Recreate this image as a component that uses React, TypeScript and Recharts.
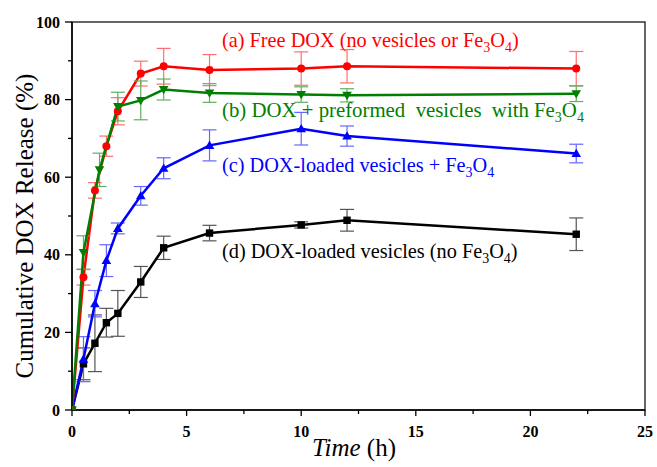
import { LineChart, Line, XAxis, YAxis, ErrorBar, ReferenceArea } from 'recharts'

// sampling times (h)
const times = [0, 0.5, 1, 1.5, 2, 3, 4, 6, 10, 12, 22]
const greenTimes = [0, 0.5, 1.2, 2, 3, 4, 6, 10, 12, 22]

// (a) free DOX
const freeDox = [0, 34.2, 56.6, 68.0, 77.0, 86.7, 88.6, 87.6, 88.0, 88.6, 88.0]
const freeDoxErr = [0, 2.0, 2.0, 2.6, 3.5, 3.2, 4.6, 4.0, 4.3, 4.3, 4.4]
// (b) DOX + preformed vesicles with Fe3O4
const preformed = [0, 40.6, 61.9, 78.2, 79.8, 82.6, 81.7, 81.3, 81.1, 81.5]
const preformedErr = [0, 4.3, 4.3, 3.7, 5.0, 2.7, 2.4, 2.0, 1.7, 2.0]
// (c) DOX-loaded vesicles + Fe3O4
const loadedFe = [0, 13.1, 27.4, 38.5, 46.8, 55.2, 62.3, 68.2, 72.5, 70.6, 66.1]
const loadedFeErr = [0, 5.8, 3.4, 4.1, 1.4, 2.4, 2.7, 4.0, 4.2, 2.6, 2.4]
// (d) DOX-loaded vesicles, no Fe3O4
const loaded = [0, 11.9, 17.2, 22.5, 24.9, 33.0, 41.8, 45.6, 47.7, 48.9, 45.3]
const loadedErr = [0, 4.1, 7.3, 3.7, 5.9, 4.0, 3.0, 2.0, 0.8, 2.8, 4.2]

const xTicks = [0, 2.5, 5, 7.5, 10, 12.5, 15, 17.5, 20, 22.5, 25]
const yTicks = [0, 10, 20, 30, 40, 50, 60, 70, 80, 90, 100]

const rows = (ts: number[], vs: number[], es: number[]) =>
  ts.map((t, i) => ({ t, v: vs[i], e: es[i] }))

const serif = { fontFamily: 'Liberation Serif, Times New Roman, serif' }

function XTick({ x, y, payload }: any) {
  const major = payload.value % 5 === 0
  return (
    <g>
      <line x1={x} x2={x} y1={y} y2={y + (major ? 6 : 4)} stroke="#000" strokeWidth={1.3} />
      {major && (
        <text x={x} y={y + 27} textAnchor="middle" style={serif} fontWeight="bold" fontSize={16} fill="#000">
          {payload.value}
        </text>
      )}
    </g>
  )
}

function YTick({ x, y, payload }: any) {
  const major = payload.value % 20 === 0
  return (
    <g>
      <line x1={x} x2={x - (major ? 7 : 4)} y1={y} y2={y} stroke="#000" strokeWidth={1.3} />
      {major && (
        <text x={x - 12} y={y + 5.5} textAnchor="end" style={serif} fontWeight="bold" fontSize={16} fill="#000">
          {payload.value}
        </text>
      )}
    </g>
  )
}

const circleDot = (p: any) => <circle key={p.index} cx={p.cx} cy={p.cy} r={4} fill="#ff0000" />
const squareDot = (p: any) => <rect key={p.index} x={p.cx - 3.7} y={p.cy - 3.7} width={7.4} height={7.4} fill="#000" />
const downDot = (p: any) => (
  <polygon
    key={p.index}
    points={`${p.cx - 4.8},${p.cy - 3.5} ${p.cx + 4.8},${p.cy - 3.5} ${p.cx},${p.cy + 4.8}`}
    fill="#008000"
  />
)
const upDot = (p: any) => (
  <polygon
    key={p.index}
    points={`${p.cx - 4.8},${p.cy + 3.5} ${p.cx + 4.8},${p.cy + 3.5} ${p.cx},${p.cy - 4.8}`}
    fill="#0000ff"
  />
)

function FeO(props: { close?: boolean }) {
  return (
    <>
      Fe<tspan dy={5} fontSize={14}>3</tspan>
      <tspan dy={-5}>O</tspan>
      <tspan dy={5} fontSize={14}>4</tspan>
      {props.close && <tspan dy={-5}>)</tspan>}
    </>
  )
}

export default function App() {
  return (
    <div style={{ position: 'absolute', left: 0, top: 0, width: 657, height: 467, background: '#fff' }}>
      <LineChart width={657} height={467} margin={{ top: 22, right: 12, bottom: 0, left: 12 }}>
        <XAxis
          type="number"
          dataKey="t"
          domain={[0, 25]}
          ticks={xTicks}
          interval={0}
          tick={<XTick />}
          tickLine={false}
          tickSize={0}
          tickMargin={0}
          height={57}
          axisLine={{ stroke: '#000', strokeWidth: 1.5 }}
          allowDataOverflow
        />
        <YAxis
          type="number"
          domain={[0, 100]}
          ticks={yTicks}
          interval={0}
          tick={<YTick />}
          tickLine={false}
          tickSize={0}
          tickMargin={0}
          width={60}
          axisLine={{ stroke: '#000', strokeWidth: 1.5 }}
          allowDataOverflow
        />
        <ReferenceArea x1={0} x2={25} y1={0} y2={100} fill="none" stroke="#333" strokeWidth={1.5} />
        <Line
          data={rows(times, loaded, loadedErr)}
          dataKey="v"
          stroke="#000"
          strokeWidth={2.5}
          dot={squareDot}
          isAnimationActive={false}
        >
          <ErrorBar dataKey="e" direction="y" width={7} stroke="#555" strokeWidth={1.2} />
        </Line>
        <Line
          data={rows(times, loadedFe, loadedFeErr)}
          dataKey="v"
          stroke="#0000ff"
          strokeWidth={2.5}
          dot={upDot}
          isAnimationActive={false}
        >
          <ErrorBar dataKey="e" direction="y" width={7} stroke="#6666ff" strokeWidth={1.2} />
        </Line>
        <Line
          data={rows(times, freeDox, freeDoxErr)}
          dataKey="v"
          stroke="#ff0000"
          strokeWidth={2.5}
          dot={circleDot}
          isAnimationActive={false}
        >
          <ErrorBar dataKey="e" direction="y" width={7} stroke="#ff6f6f" strokeWidth={1.2} />
        </Line>
        <Line
          data={rows(greenTimes, preformed, preformedErr)}
          dataKey="v"
          stroke="#008000"
          strokeWidth={2.5}
          dot={downDot}
          isAnimationActive={false}
        >
          <ErrorBar dataKey="e" direction="y" width={7} stroke="#5fb05f" strokeWidth={1.2} />
        </Line>
      </LineChart>
      <svg
        width={657}
        height={467}
        style={{ position: 'absolute', left: 0, top: 0, pointerEvents: 'none', ...serif }}
      >
        <text x={222} y={47} fontSize={20.3} fill="#ff0000" style={serif}>
          (a) Free DOX (no vesicles or <FeO close />
        </text>
        <text x={222} y={117} fontSize={20.8} fill="#008000" style={{ ...serif, whiteSpace: 'pre' }}>
          {'(b) DOX + preformed  vesicles  with '}
          <FeO />
        </text>
        <text x={222} y={172} fontSize={20.3} fill="#0000ff" style={serif}>
          (c) DOX-loaded vesicles + <FeO />
        </text>
        <text x={222} y={258} fontSize={20.3} fill="#000" style={serif}>
          (d) DOX-loaded vesicles (no <FeO close />
        </text>
        <text transform="translate(33,226) rotate(-90)" textAnchor="middle" fontSize={25} fill="#000" style={serif}>
          Cumulative DOX Release (%)
        </text>
        <text x={354} y={456} textAnchor="middle" fontSize={25} fill="#000" style={serif}>
          <tspan fontStyle="italic">Time</tspan> (h)
        </text>
      </svg>
    </div>
  )
}
